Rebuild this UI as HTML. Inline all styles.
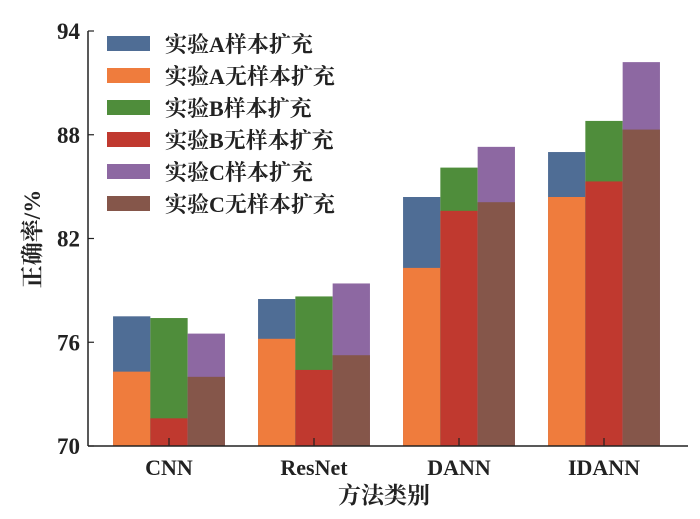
<!DOCTYPE html>
<html><head><meta charset="utf-8"><style>
body{margin:0;background:#fff;}
svg text{font-family:"Liberation Serif","Noto Serif CJK SC",serif;font-weight:bold;fill:#222;}
</style></head><body>
<svg id="chart" width="700" height="514">
<g id="bars"></g><g id="axes"></g><g id="legend"></g>
</svg>
<script>
const categories=["CNN","ResNet","DANN","IDANN"];
const seriesNames=["实验A样本扩充","实验A无样本扩充","实验B样本扩充","实验B无样本扩充","实验C样本扩充","实验C无样本扩充"];
const expA=[77.5,78.5,84.4,87.0];
const noExpA=[74.3,76.2,80.3,84.4];
const expB=[77.4,78.65,86.1,88.8];
const noExpB=[71.6,74.4,83.6,85.3];
const expC=[76.5,79.4,87.3,92.2];
const noExpC=[74.0,75.25,84.1,88.3];
const yTicks=[70,76,82,88,94];
const colors=["#4f6d95","#ef7c3d","#4f8d3b","#c0392f","#8d68a2","#85564a"];
const NS="http://www.w3.org/2000/svg";
const y0=446,y1=31,vmin=70,vmax=94;
const yScale=v=>y0-(v-vmin)/(vmax-vmin)*(y0-y1);
const xCenter=i=>169+145*i;
const bw=37.3;
function mk(tag,attrs,parent,text){const e=document.createElementNS(NS,tag);for(const k in attrs)e.setAttribute(k,attrs[k]);if(text!==undefined)e.textContent=text;parent.appendChild(e);return e;}
const gb=document.getElementById('bars'),ga=document.getElementById('axes'),gl=document.getElementById('legend');
const pairs=[[expA,noExpA],[expB,noExpB],[expC,noExpC]];
categories.forEach((c,i)=>{
  pairs.forEach((p,j)=>{
    const x=xCenter(i)-bw*1.5+bw*j;
    let r=mk('rect',{x:x,y:yScale(p[0][i]),width:bw,height:y0-yScale(p[0][i]),fill:colors[j*2]},gb);
    
    
    r=mk('rect',{x:x,y:yScale(p[1][i]),width:bw,height:y0-yScale(p[1][i]),fill:colors[j*2+1]},gb);
    
    
  });
  const t=mk('line',{x1:xCenter(i),x2:xCenter(i),y1:y0,y2:y0-8,stroke:'#222','stroke-width':1.2},ga);
  
  
  const l=mk('text',{x:xCenter(i),y:y0+29,'text-anchor':'middle','font-size':22},ga,c);
  
  
});
let ax=mk('line',{x1:88,x2:88,y1:y1,y2:y0,stroke:'#222','stroke-width':1.5},ga);


ax=mk('line',{x1:88,x2:688,y1:y0,y2:y0,stroke:'#222','stroke-width':1.5},ga);


yTicks.forEach(v=>{
  const t=mk('line',{x1:88,x2:94,y1:yScale(v),y2:yScale(v),stroke:'#222','stroke-width':1.2},ga);
  
  
  const l=mk('text',{x:80,y:yScale(v)+8,'text-anchor':'end','font-size':23},ga,String(v));
  
  
});
let tt=mk('text',{x:384,y:503,'text-anchor':'middle','font-size':23},ga,'方法类别');


tt=mk('text',{x:0,y:0,'text-anchor':'middle','font-size':23,transform:'translate(40,239) rotate(-90)'},ga,'正确率/%');


seriesNames.forEach((n,k)=>{
  const y=36+32*k;
  const g=mk('g',{},gl);
  
  
  mk('rect',{x:107,y:y,width:43,height:15,fill:colors[k]},g);
  mk('text',{x:165,y:y+16,'font-size':22},g,n);
});
</script>
</body></html>
